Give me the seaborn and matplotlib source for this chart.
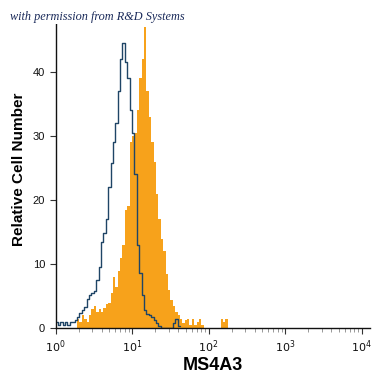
import numpy as np
import pandas as pd
import matplotlib
matplotlib.use("Agg")
import matplotlib.pyplot as plt
import matplotlib.ticker as mticker
import seaborn as sns

# Histogram bins: 32 bins per decade starting at 10^0
bins_per_decade = 32
isotype_counts = [1, 0.5, 1, 0.5, 1, 0.5, 1, 1, 1.3, 1.8,
                  2.3, 2.8, 3.3, 4.5, 5.2, 5.5, 5.8, 7.5, 9.6, 13.5,
                  14.8, 17, 22, 25.8, 29, 32, 37, 42, 44.5, 41.5,
                  39, 34, 30.5, 24, 13, 8.6, 5.2, 2.8, 2.2, 2,
                  1.8, 1.2, 0.8, 0.3, 0, 0, 0, 0, 0, 0.8,
                  1.5, 0.3]
ms4a3_counts = [0, 0, 0, 0, 0, 0, 0, 0, 0, 1.5,
                1, 2, 1.5, 1, 2, 3, 3.5, 2.5, 3, 2.5,
                3.2, 3.8, 4, 5.5, 8, 6.5, 9, 11, 13, 18.5,
                19, 29, 30, 30.5, 34, 39, 42, 47, 37, 33,
                29, 26, 21, 17, 14, 12, 8.5, 6, 4.4, 3.5,
                2.5, 2, 1.5, 0.8, 1.2, 1.5, 0.5, 1.5, 0.5, 1,
                1.5, 0.5, 0, 0, 0, 0, 0, 0, 0, 1.5,
                1, 1.5]
x_tick_labels = ["$10^0$", "$10^1$", "$10^2$", "$10^3$", "$10^4$"]
y_ticks = [0, 10, 20, 30, 40]

def to_frame(counts):
    n = len(counts)
    centers = 10 ** ((np.arange(n) + 0.5) / bins_per_decade)
    return pd.DataFrame({"value": centers, "count": counts}), n

sns.set_style("ticks")
plt.rcParams["font.family"] = ["Liberation Sans", "DejaVu Sans"]

fig = plt.figure(figsize=(3.75, 3.75), dpi=100)
ax = fig.add_axes([0.148, 0.125, 0.839, 0.845])

df_o, n_o = to_frame(ms4a3_counts)
sns.histplot(data=df_o, x="value", weights="count", log_scale=True,
             binwidth=1 / bins_per_decade, binrange=(0, n_o / bins_per_decade),
             element="step", fill=True, color="#f7a21b", alpha=1, linewidth=0,
             ax=ax)

df_b, n_b = to_frame(isotype_counts)
sns.histplot(data=df_b, x="value", weights="count", log_scale=True,
             binwidth=1 / bins_per_decade, binrange=(0, n_b / bins_per_decade),
             element="step", fill=False, color="#1f4566", linewidth=1.0,
             ax=ax)

ax.set_xlim(1, 10 ** 4.11)
ax.set_ylim(0, 49.5)
ax.set_xticks([1, 10, 100, 1000, 10000])
ax.set_xticklabels(x_tick_labels)
ax.xaxis.set_minor_locator(mticker.LogLocator(base=10, subs=np.arange(2, 10)))
ax.xaxis.set_minor_formatter(mticker.NullFormatter())
ax.set_yticks(y_ticks)
ax.tick_params(axis="both", which="major", labelsize=8, length=4, width=0.8,
               color="#333333", labelcolor="#111111", direction="out")
ax.tick_params(axis="x", which="minor", length=3, width=0.6, color="#888888")
for s in ["top", "right"]:
    ax.spines[s].set_visible(False)
for s in ["left", "bottom"]:
    ax.spines[s].set_color("#111111")
    ax.spines[s].set_linewidth(1.0)

ax.set_xlabel("MS4A3", fontsize=13, fontweight="bold", labelpad=1, color="black")
ax.set_ylabel("Relative Cell Number", fontsize=11, fontweight="bold", labelpad=5,
              color="black")

fig.text(0.027, 0.955, "with permission from R&D Systems", fontsize=8.8,
         fontstyle="italic", family=["Liberation Serif", "DejaVu Serif"],
         color="#1a2a5a", ha="left", va="center",
         bbox=dict(facecolor="white", edgecolor="none", pad=1))

fig.savefig("out.png", dpi=100)
